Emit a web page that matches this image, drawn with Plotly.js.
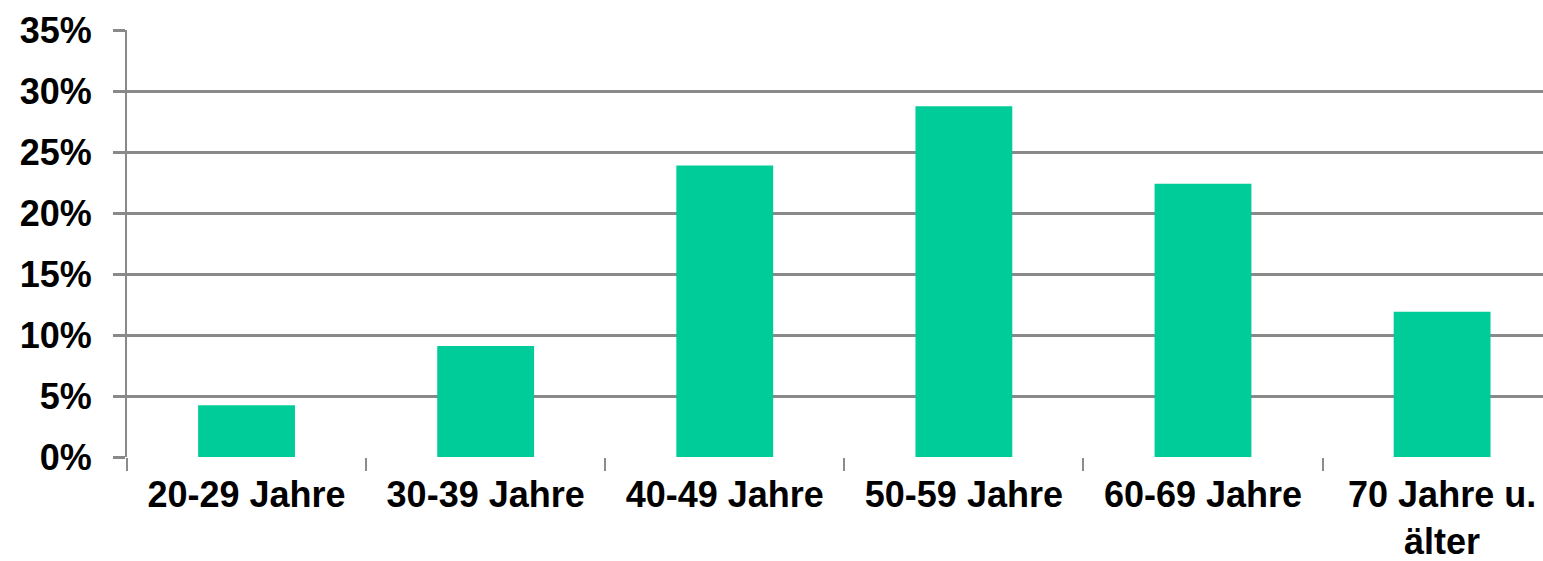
<!DOCTYPE html>
<html>
<head>
<meta charset="utf-8">
<script src="https://cdn.plot.ly/plotly-3.0.1.min.js"></script>
<style>html,body{margin:0;padding:0;background:#fff;}#chart{width:1543px;height:561px;}</style>
</head>
<body>
<div id="chart"></div>
<script>
const categories = ["20-29 Jahre", "30-39 Jahre", "40-49 Jahre", "50-59 Jahre", "60-69 Jahre", "70 Jahre u.<br>älter"];
const shares = [4.25, 9.1, 23.9, 28.75, 22.4, 11.9];
const yTicks = [0, 5, 10, 15, 20, 25, 30, 35];

const trace = {
  type: "bar",
  x: categories,
  y: shares,
  width: 0.405,
  marker: {color: "#00CC99", line: {width: 0}},
  hoverinfo: "skip"
};

const layout = {
  width: 1543, height: 561,
  margin: {l: 127, r: 0, t: 30, b: 104},
  paper_bgcolor: "#fff", plot_bgcolor: "#fff",
  showlegend: false,
  bargap: 0.6,
  font: {family: "Liberation Sans, Arial, sans-serif", size: 36, color: "#000", weight: "bold"},
  xaxis: {
    type: "category",
    range: [-0.5, 5.422],
    tickson: "boundaries",
    ticks: "outside", ticklen: 13, tickwidth: 2, tickcolor: "#8c8c8c",
    showgrid: false, showline: false, zeroline: false,
    ticklabelstandoff: 13,
    tickfont: {family: "Liberation Sans, Arial, sans-serif", size: 36, color: "#000", weight: "bold"},
    fixedrange: true
  },
  yaxis: {
    range: [0, 35],
    tickvals: yTicks,
    ticktext: yTicks.map(v => v + "%"),
    ticks: "outside", ticklen: 12, tickwidth: 3, tickcolor: "#898989",
    showgrid: true, gridcolor: "#898989", gridwidth: 3,
    showline: true, linecolor: "#898989", linewidth: 2,
    zeroline: false,
    ticklabelstandoff: 14,
    tickfont: {family: "Liberation Sans, Arial, sans-serif", size: 36, color: "#000", weight: "bold"},
    fixedrange: true
  }
};

Plotly.newPlot("chart", [trace], layout, {displayModeBar: false, staticPlot: true});
</script>
</body>
</html>
